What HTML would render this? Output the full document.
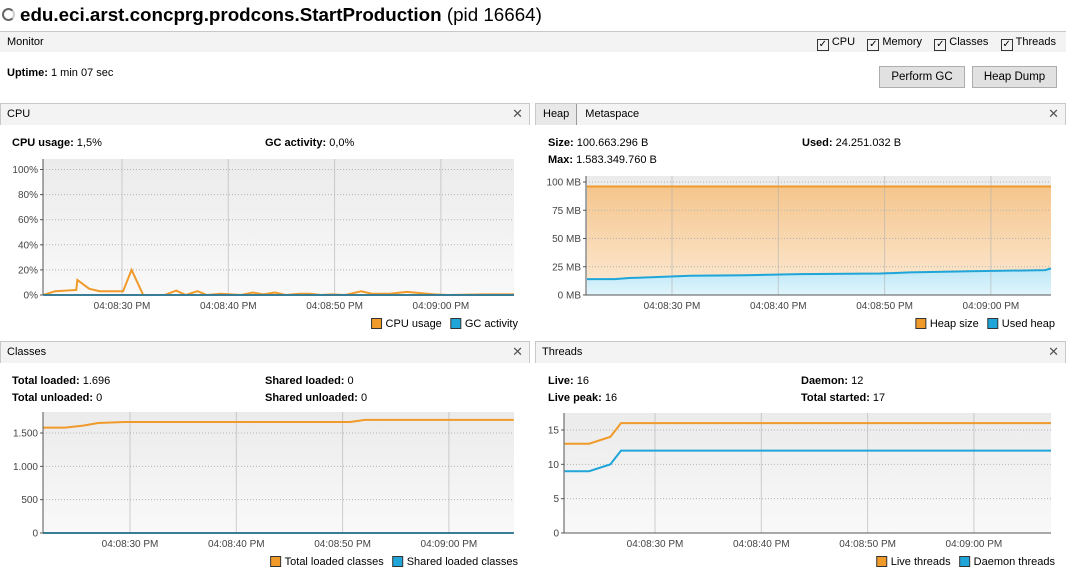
<!DOCTYPE html>
<html><head><meta charset="utf-8"><style>
*{box-sizing:border-box}
body{margin:0;width:1072px;height:578px;background:#fff;font-family:"Liberation Sans",sans-serif;font-size:11px;color:#000;position:relative;overflow:hidden}
.a{position:absolute}
.hdr{position:absolute;height:22px;background:#f3f3f3;border:1px solid #c8c8c8;border-bottom:none;font-size:11px;line-height:20px;padding-left:6px}
.x{position:absolute;right:6px;top:0;font-size:13px;color:#555}
b{font-weight:bold}
.btn{position:absolute;top:66px;height:22px;background:#e1e1e1;border:1px solid #adadad;text-align:center;line-height:20px;font-size:11.5px}
.cb{display:inline-block;width:12px;height:12px;border:1px solid #333;vertical-align:-2px;margin-right:3px;font-size:10px;line-height:10px;text-align:center}
</style></head><body>
<div class="a" style="left:2px;top:4px;font-size:18.8px;white-space:nowrap"><span style="display:inline-block;width:13px;height:13px;border:2px solid #666;border-radius:50%;border-right-color:#ccc;margin-right:5px;vertical-align:0"></span><b>edu.eci.arst.concprg.prodcons.StartProduction</b> (pid 16664)</div>
<div class="a" style="left:0;top:31px;width:1066px;height:21px;background:#f3f3f3;border-top:1px solid #c8c8c8;line-height:20px;padding-left:7px">Monitor
<div class="a" style="right:10px;top:0;white-space:nowrap">
<span><span class="cb">✓</span>CPU</span>&nbsp;&nbsp;&nbsp;
<span><span class="cb">✓</span>Memory</span>&nbsp;&nbsp;&nbsp;
<span><span class="cb">✓</span>Classes</span>&nbsp;&nbsp;&nbsp;
<span><span class="cb">✓</span>Threads</span></div></div>
<div class="a" style="left:7px;top:67px"><b>Uptime:</b> 1 min 07 sec</div>
<div class="btn" style="left:879px;width:86px">Perform GC</div>
<div class="btn" style="left:972px;width:85px">Heap Dump</div>

<div class="hdr" style="left:0;top:103px;width:530px">CPU<span class="x">✕</span></div>
<div class="hdr" style="left:535px;top:103px;width:531px;padding-left:0"><span style="display:inline-block;background:#e8e8e8;border-right:1px solid #999;padding:0 7px;height:21px">Heap</span><span style="padding-left:8px">Metaspace</span><span class="x">✕</span></div>
<div class="hdr" style="left:0;top:341px;width:530px">Classes<span class="x">✕</span></div>
<div class="hdr" style="left:535px;top:341px;width:531px">Threads<span class="x">✕</span></div>

<div class="a" style="left:12px;top:137px"><b>CPU usage:</b> 1,5%</div>
<div class="a" style="left:265px;top:137px"><b>GC activity:</b> 0,0%</div>
<div class="a" style="left:548px;top:137px"><b>Size:</b> 100.663.296 B</div>
<div class="a" style="left:548px;top:154px"><b>Max:</b> 1.583.349.760 B</div>
<div class="a" style="left:802px;top:137px"><b>Used:</b> 24.251.032 B</div>
<div class="a" style="left:12px;top:375px"><b>Total loaded:</b> 1.696</div>
<div class="a" style="left:12px;top:392px"><b>Total unloaded:</b> 0</div>
<div class="a" style="left:265px;top:375px"><b>Shared loaded:</b> 0</div>
<div class="a" style="left:265px;top:392px"><b>Shared unloaded:</b> 0</div>
<div class="a" style="left:548px;top:375px"><b>Live:</b> 16</div>
<div class="a" style="left:548px;top:392px"><b>Live peak:</b> 16</div>
<div class="a" style="left:801px;top:375px"><b>Daemon:</b> 12</div>
<div class="a" style="left:801px;top:392px"><b>Total started:</b> 17</div>

<svg id="s" class="a" style="left:0;top:0" width="1072" height="578" font-family="Liberation Sans, sans-serif" font-size="10">
<defs><linearGradient id="bg" x1="0" y1="0" x2="0" y2="1"><stop offset="0" stop-color="#ebebeb"/><stop offset="1" stop-color="#f9f9f9"/></linearGradient>
<linearGradient id="fo" gradientUnits="userSpaceOnUse" x1="0" y1="186" x2="0" y2="295"><stop offset="0" stop-color="#f5c58c"/><stop offset="1" stop-color="#fcebd6"/></linearGradient>
<linearGradient id="fb" gradientUnits="userSpaceOnUse" x1="0" y1="270" x2="0" y2="295"><stop offset="0" stop-color="#bfe8f7"/><stop offset="1" stop-color="#e0f5fc"/></linearGradient></defs>
</svg>
<script>
// time in seconds after 04:08:00
const cpuT=[22.6,23.7,25.7,25.8,26.9,27.9,30.1,30.9,32.0,34.0,35.1,36.0,37.1,38.0,39.3,41.2,42.3,43.3,44.4,45.4,46.7,47.7,48.7,49.7,51.0,52.5,53.5,55.2,56.8,59.4,60.7,64.0,66.9];
const cpuUsage=[0,3,4,12,5,3,3,20,0,0,3.5,0,3,0,1,0,2,0.5,2,0,1,1,0,0.5,0,3,1,1,2.5,0.5,0,0.5,0.5];
const gcActivity=cpuT.map(()=>0);
const cpuTicks=[0,20,40,60,80,100];
const heapT=[22.0,24.6,26.0,31.7,36.9,42.0,49.6,52.4,58.0,65.1,65.8];
const heapSize=[96,96,96,96,96,96,96,96,96,96,96];
const usedHeap=[14,14,15,17,17.5,18.5,19,20,21,22,23.5];
const heapTicks=[0,25,50,75,100];
const clsT=[21.8,23.9,25.6,27.0,29.5,50.7,52.1,66.1];
const totalClasses=[1580,1580,1610,1650,1665,1665,1696,1696];
const sharedClasses=[0,0,0,0,0,0,0,0];
const clsTicks=[0,500,1000,1500];
const thrT=[21.5,23.8,25.8,26.8,67.3];
const liveThreads=[13,13,14,16,16];
const daemonThreads=[9,9,10,12,12];
const thrTicks=[0,5,10,15];
const timeTicks=[30,40,50,60];
const timeLabels=['04:08:30 PM','04:08:40 PM','04:08:50 PM','04:09:00 PM'];

const NS='http://www.w3.org/2000/svg', S=document.getElementById('s');
function el(t,a,p){const e=document.createElementNS(NS,t);for(const k in a)e.setAttribute(k,a[k]);(p||S).appendChild(e);return e;}
function chart(c){
  const g=el('g',{});
  
  
  const pps=10.63;
  const X=t=>c.t30+(t-30)*pps, Y=v=>c.bottom-(v/c.max)*(c.bottom-c.vtop);
  el('rect',{x:c.left,y:c.top,width:c.right-c.left,height:c.bottom-c.top,fill:'url(#bg)'},g);
  c.series.forEach(s=>{
    if(!s.fill) return;
    const pts=c.ts.map((t,i)=>[Math.max(c.left,Math.min(c.right,X(t))),Y(s.v[i])]);
    const d='M'+pts[0][0]+','+c.bottom+' L'+pts.map(p=>p.join(',')).join(' L')+' L'+pts[pts.length-1][0]+','+c.bottom+'Z';
    el('path',{d:d,fill:s.fill},g);
  });
  c.yticks.forEach(v=>{const y=Y(v);
    if(v>0){el('line',{x1:c.left,x2:c.right,y1:y,y2:y,stroke:'#b4b4b4','stroke-dasharray':'1,2'},g);}
    el('line',{x1:c.left-3,x2:c.left,y1:y,y2:y,stroke:'#555'},g);
    const tx=el('text',{x:c.left-5,y:y+3.5,'text-anchor':'end',fill:'#444'},g);tx.textContent=c.fmt(v);
    
    
  });
  timeTicks.forEach((t,i)=>{const x=X(t);
    el('line',{x1:x,x2:x,y1:c.top,y2:c.bottom,stroke:'#b0b0b0','stroke-opacity':0.6},g);
    const tx=el('text',{x:x,y:c.bottom+14,'text-anchor':'middle',fill:'#444'},g);tx.textContent=timeLabels[i];
    
    
  });
  c.series.forEach(s=>{
    const pts=c.ts.map((t,i)=>[Math.max(c.left,Math.min(c.right,X(t))),Y(s.v[i])]);
    const p=el('polyline',{points:pts.map(p=>p.join(',')).join(' '),fill:'none',stroke:s.color,'stroke-width':2},g);
    
    
  });
  el('line',{x1:c.left,x2:c.left,y1:c.top,y2:c.bottom,stroke:'#555'},g);
  el('line',{x1:c.left,x2:c.right,y1:c.bottom,y2:c.bottom,stroke:'#555'},g);
  let x=c.legendRight;
  for(let i=c.series.length-1;i>=0;i--){const s=c.series[i];
    const tx=el('text',{x:0,y:c.bottom+32,'font-size':11,fill:'#000'},g);tx.textContent=s.label;
    const w=tx.getComputedTextLength();
    x-=w;tx.setAttribute('x',x);
    
    
    x-=14;el('rect',{x:x,y:c.bottom+23.5,width:10,height:10,fill:s.color,stroke:'#333'},g);x-=9;
  }
}
chart({name:'cpu-chart',left:43,right:514,legendRight:518,top:159,vtop:169.5,bottom:295,max:100,t30:122,ts:cpuT,yticks:cpuTicks,fmt:v=>v+'%',
  series:[{name:'cpu-usage-line',label:'CPU usage',color:'#f09a2a',v:cpuUsage},{name:'gc-activity-line',label:'GC activity',color:'#20a5d8',v:gcActivity}]});
chart({name:'heap-chart',left:586,right:1051,legendRight:1055,top:176,vtop:182,bottom:295,max:100,t30:672,ts:heapT,yticks:heapTicks,fmt:v=>v+' MB',
  series:[{name:'heap-size-area',label:'Heap size',color:'#f09a2a',fill:'url(#fo)',v:heapSize},{name:'used-heap-area',label:'Used heap',color:'#20a5d8',fill:'url(#fb)',v:usedHeap}]});
chart({name:'classes-chart',left:43,right:514,legendRight:518,top:412,vtop:433,bottom:533,max:1500,t30:130,ts:clsT,yticks:clsTicks,fmt:v=>v.toLocaleString('de-DE'),
  series:[{name:'total-loaded-line',label:'Total loaded classes',color:'#f09a2a',v:totalClasses},{name:'shared-loaded-line',label:'Shared loaded classes',color:'#20a5d8',v:sharedClasses}]});
chart({name:'threads-chart',left:564,right:1051,legendRight:1055,top:413,vtop:430,bottom:533,max:15,t30:655,ts:thrT,yticks:thrTicks,fmt:v=>''+v,
  series:[{name:'live-threads-line',label:'Live threads',color:'#f09a2a',v:liveThreads},{name:'daemon-threads-line',label:'Daemon threads',color:'#20a5d8',v:daemonThreads}]});
</script>
</body></html>
